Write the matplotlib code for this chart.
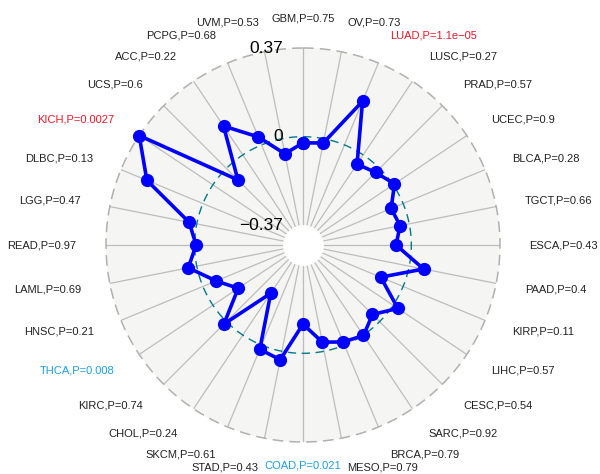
import numpy as np
import matplotlib
matplotlib.use("Agg")
import matplotlib.pyplot as plt

plt.rcParams['font.family'] = ['Liberation Sans', 'DejaVu Sans']

# cancer types, clockwise from the top
cancers = ["GBM", "OV", "LUAD", "LUSC", "PRAD", "UCEC", "BLCA", "TGCT",
           "ESCA", "PAAD", "KIRP", "LIHC", "CESC", "SARC", "BRCA", "MESO",
           "COAD", "STAD", "SKCM", "CHOL", "KIRC", "THCA", "HNSC", "LAML",
           "READ", "LGG", "DLBC", "KICH", "UCS", "ACC", "PCPG", "UVM"]
pvals = ["0.75", "0.73", "1.1e-05", "0.27", "0.57", "0.9", "0.28", "0.66",
         "0.43", "0.4", "0.11", "0.57", "0.54", "0.92", "0.79", "0.79",
         "0.021", "0.43", "0.61", "0.24", "0.74", "0.008", "0.21", "0.69",
         "0.97", "0.47", "0.13", "0.0027", "0.6", "0.22", "0.68", "0.53"]
corr = [-0.026, -0.018, 0.197, -0.046, -0.024, 0.007, -0.054, -0.039,
        -0.064, 0.061, -0.101, 0.024, -0.042, 0.002, -0.014, -0.039,
        -0.122, 0.036, 0.019, -0.210, 0.015, -0.127, -0.060, 0.036,
        -0.006, 0.032, 0.253, 0.370, -0.068, 0.145, 0.036, -0.064]
# label colours: red = positive significant, blue = negative significant
label_col = {"LUAD": "#E8192C", "KICH": "#E8192C",
             "THCA": "#1E9FE0", "COAD": "#1E9FE0"}

grid_min, grid_mid, grid_max = -0.37, 0.0, 0.37
centre_y = grid_min - (grid_max - grid_min) / 9.0
rmax = grid_max - centre_y

fig = plt.figure(figsize=(6, 4.74), dpi=100)
R = 197
ax = fig.add_axes([(303 - R) / 600, (229 - R) / 474, 2 * R / 600, 2 * R / 474],
                  projection='polar')
ax.set_theta_zero_location('N')
ax.set_theta_direction(-1)
ax.set_ylim(0, rmax)
ax.set_facecolor('#F5F5F4')
ax.spines['polar'].set_visible(False)
ax.grid(False)
ax.set_xticks([])
ax.set_yticks([])

n = len(cancers)
theta = np.arange(n) * 2 * np.pi / n
circ = np.linspace(0, 2 * np.pi, 400)

for th in theta:
    ax.plot([th, th], [0, rmax], color='#BDBDBD', lw=0.9, zorder=1)
ax.fill_between(circ, 0, grid_min - centre_y, color='white', zorder=2)
ax.plot(circ, np.full_like(circ, rmax), color='#B0B0B0', lw=1.1,
        ls=(0, (7, 4)), zorder=3, clip_on=False)
ax.plot(circ, np.full_like(circ, grid_mid - centre_y), color='#007A87', lw=1.0,
        ls=(0, (6, 4)), zorder=3)

r = np.array(corr) - centre_y
ax.plot(np.append(theta, theta[0]), np.append(r, r[0]), color='#0000FF',
        lw=2.6, marker='o', markersize=8.5, zorder=5, clip_on=False)

# grid labels, right-aligned just left of the vertical axis
for val, txt in [(grid_max, "0.37"), (grid_mid, "0"), (grid_min, "-0.37")]:
    rr = val - centre_y
    ang = -np.arctan2(0.1 * rmax, rr)
    ax.text(ang, np.hypot(0.1 * rmax, rr), txt.replace("-", "\u2212"),
            ha='right', va='center', fontsize=12.5, zorder=6)

for th, name, p in zip(theta, cancers, pvals):
    s = np.sin(th)
    off = rmax * 1.15
    if abs(s) < 0.02:
        ha = 'center'
        if np.cos(th) < 0:
            off = rmax * 1.12
    elif s > 0:
        ha = 'left'
    else:
        ha = 'right'
    ax.text(th, off, f"{name},P={p}".replace("-", "\u2212"), ha=ha, va='center',
            fontsize=8, color=label_col.get(name, '#222222'))

fig.savefig("out.png", dpi=100)
